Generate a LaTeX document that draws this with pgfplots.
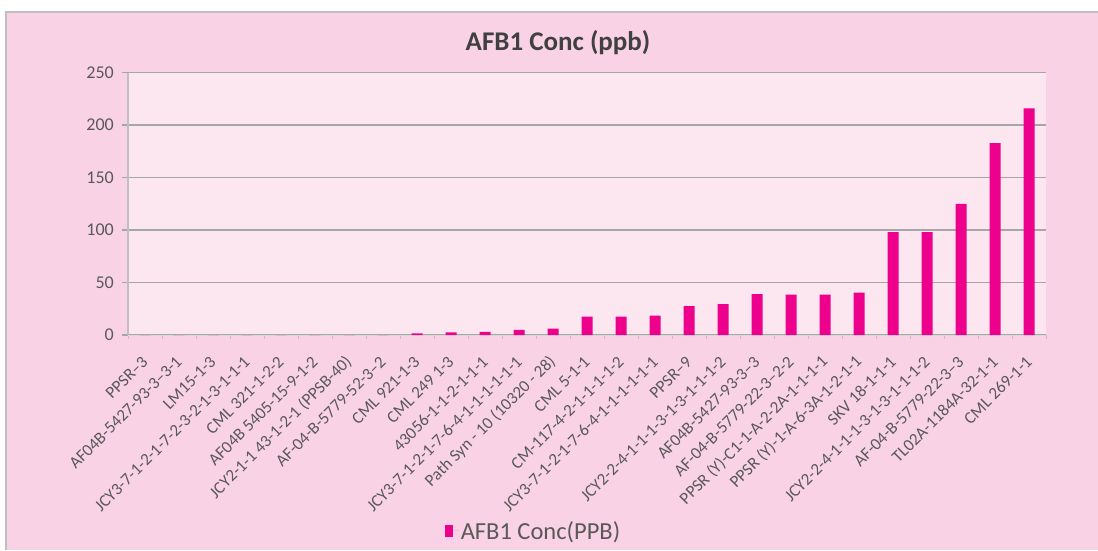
\documentclass[border=0pt]{standalone}
\usepackage{fontspec}
\setmainfont{Carlito}
\usepackage{pgfplots}
\pgfplotsset{compat=1.18}

\definecolor{outerpink}{HTML}{F9D3E5}
\definecolor{innerpink}{HTML}{FCE6EF}
\definecolor{barmag}{HTML}{EC008C}
\definecolor{gridgray}{HTML}{A6A6A6}
\definecolor{framegray}{HTML}{BFBFBF}
\definecolor{titlegray}{HTML}{404040}
\definecolor{labelgray}{HTML}{595959}

\begin{document}
\begin{tikzpicture}[x=1pt,y=1pt]
  % page and chart area
  \path[use as bounding box] (0,0) rectangle (1098,550);
  \fill[white] (0,0) rectangle (1098,550);
  \fill[outerpink] (6,0) rectangle (1098,538);
  \draw[framegray, line width=2pt] (6,0) -- (6,538) -- (1098,538);

  \node[font=\fontsize{27}{31}\selectfont\bfseries, text=titlegray] at (558,507) {AFB1 Conc (ppb)};

  \begin{axis}[
    at={(128pt,215pt)}, anchor=south west,
    scale only axis, width=918pt, height=262.3pt,
    xmin=-0.5, xmax=26.5, ymin=0, ymax=250,
    ybar, bar width=11pt,
    axis background/.style={fill=innerpink},
    axis x line=bottom, axis y line=left,
    x axis line style={-, draw=framegray!60, line width=1pt},
    y axis line style={-, draw=framegray, line width=2pt},
    tick align=outside,
    /pgf/number format/assume math mode=true,
    ytick={0,50,...,250},
    ymajorgrids,
    major grid style={gridgray, line width=1.5pt},
    y tick style={gridgray, line width=1.5pt},
    major tick length=6pt,
    xtick={0,...,26},
    x tick style={draw=none},
    minor xtick={-0.5,0.5,...,26.5},
    minor x tick style={draw=framegray, line width=0.8pt},
    minor tick length=4pt,
    yticklabel style={font=\fontsize{18}{21}\selectfont, text=labelgray, inner sep=0pt, xshift=-8pt},
    xticklabel style={font=\fontsize{17}{20}\selectfont, text=labelgray, rotate=45, anchor=east, inner sep=0pt},
    xticklabel shift=18pt,
    xticklabels={
      PPSR--3,
      AF04B-5427-93-3--3-1,
      LM15-1-3,
      JCY3-7-1-2-1-7-2-3-2-1-3-1-1-1,
      CML 321-1-2-2,
      AF04B 5405-15-9-1-2,
      JCY2-1-1 43-1-2-1 (PPSB-40),
      AF-04-B-5779-52-3--2,
      CML 921-1-3,
      CML 249 1-3,
      43056-1-1-2-1-1-1,
      JCY3-7-1-2-1-7-6-4-1-1-1-1-1-1,
      Path Syn - 10 (10320 - 28),
      CML 5-1-1,
      CM-117-4-2-1-1-1-1-2,
      JCY3-7-1-2-1-7-6-4-1-1-1-1-1-1,
      PPSR--9,
      JCY2-2-4-1-1-1-3-1-3-1-1-1-2,
      AF04B-5427-93-3--3,
      AF-04-B-5779-22-3--2-2,
      PPSR (Y)-C1-1-A-2-2A-1-1-1-1,
      PPSR (Y)-1-A-6-3A-1-2-1-1,
      SKV 18-1-1-1,
      JCY2-2-4-1-1-1-3-1-3-1-1-1-2,
      AF-04-B-5779-22-3--3,
      TL02A-1184A-32-1-1,
      CML 269-1-1},
    legend style={at={(0.4417,-0.747)}, anchor=center, draw=none, fill=none,
      font=\fontsize{24.5}{28}\selectfont, text=labelgray},
    legend image code/.code={%
      \path (0pt,0pt) -- (14pt,0pt);
      \fill[barmag] (0pt,-6pt) rectangle (8pt,6pt);},
  ]
    \addplot[fill=barmag, draw=none] coordinates {
      (0,0) (1,0) (2,0) (3,0) (4,0) (5,0) (6,0) (7,0)
      (8,1.5) (9,2.5) (10,3) (11,5) (12,6)
      (13,17.4) (14,17.4) (15,18.5) (16,27.6) (17,29.5)
      (18,39) (19,38.5) (20,38.5) (21,40.3)
      (22,98) (23,98) (24,125) (25,183) (26,216)
    };
    \addlegendentry{AFB1 Conc(PPB)}
  \end{axis}
\end{tikzpicture}
\end{document}
